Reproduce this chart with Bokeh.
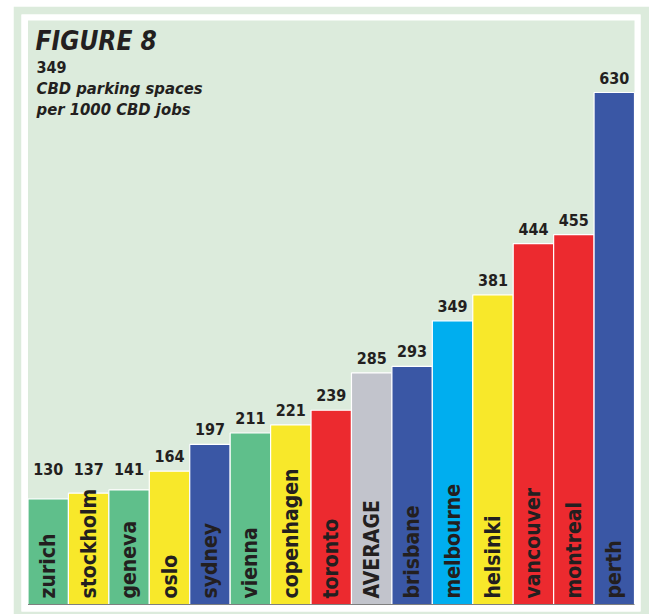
import numpy as np
from bokeh.plotting import figure
from bokeh.models import ColumnDataSource, Range1d
from bokeh.core.properties import value
from bokeh.embed import file_html
from bokeh.resources import INLINE

# ---------------- data ----------------
cities = ["zurich", "stockholm", "geneva", "oslo", "sydney", "vienna", "copenhagen",
          "toronto", "AVERAGE", "brisbane", "melbourne", "helsinki", "vancouver",
          "montreal", "perth"]
spaces = [130, 137, 141, 164, 197, 211, 221, 239, 285, 293, 349, 381, 444, 455, 630]
groups = ["green", "yellow", "green", "yellow", "blue", "green", "yellow", "red",
          "grey", "blue", "cyan", "yellow", "red", "red", "blue"]
title_text = "FIGURE 8"
average_text = "349"
subtitle_lines = ["CBD parking spaces", "per 1000 CBD jobs"]

# ---------------- style ----------------
palette = {"green": "#5fbf8b", "yellow": "#f8e82a", "blue": "#3a57a5",
           "red": "#ec2a2f", "grey": "#c2c4cc", "cyan": "#00aeef"}
OUTER = "#dcebdc"
PANEL = "#dcebdc"
INK = "#231f20"
FONT = "DejaVu Sans Condensed"

# canvas geometry (pixels in the 649x614 window)
FIG_L, FIG_T = 13, 6
FR_L, FR_R, FR_T, FR_B = 21, 640, 14, 611       # white frame
BAR_L, BAR_R, PANEL_T, BASE = 27.5, 634, 20, 604  # inner panel
PERTH_TOP = 92
SHIFT = 7  # renderer baseline correction (px)

n = len(cities)
sx = (BAR_R - BAR_L) / n
sy = (BASE - PERTH_TOP) / max(spaces)

x_start = -0.5 - (BAR_L - FR_L) / sx
x_end = x_start + (FR_R - FR_L) / sx
y_start = -(FR_B - BASE) / sy
y_end = (BASE - FR_T) / sy

def dx(px):
    return x_start + (px - FR_L) / sx

def dy(py):
    return (BASE - py) / sy

p = figure(width=649 - FIG_L, height=614 - FIG_T, margin=(FIG_T, 0, 0, FIG_L),
           x_range=Range1d(x_start, x_end), y_range=Range1d(y_start, y_end),
           x_axis_type=None, y_axis_type=None, toolbar_location=None,
           output_backend="svg", min_border_left=FR_L - FIG_L,
           min_border_right=649 - FR_R, min_border_top=FR_T - FIG_T,
           min_border_bottom=614 - FR_B, border_fill_color=OUTER,
           background_fill_color="white", outline_line_color=None)
p.grid.visible = False

# inner panel
p.quad(left=[-0.5], right=[n - 0.5], bottom=[0], top=[dy(PANEL_T)],
       fill_color=PANEL, line_color=None)

xs = np.arange(n)
vals = np.array(spaces, dtype=float)
gap = (8 + SHIFT) / sy
src = ColumnDataSource(dict(
    x=xs, top=vals, city=cities,
    color=[palette[g] for g in groups],
    label=[str(v) for v in spaces],
    label_y=np.maximum(vals, dy(475) - 8 / sy) + gap,
    cat_y=np.full(n, 6 / sy),
))

p.vbar(x="x", top="top", bottom=0, width=1.0, source=src,
       fill_color="color", line_color="white", line_width=1.2)
p.segment(x0=[-0.5], x1=[n - 0.5], y0=[0], y1=[0], line_color="#7f7f7f", line_width=1.2)

p.text(x="x", y="label_y", text="label", source=src, text_align="center",
       text_baseline="alphabetic", text_font=value(FONT), text_font_style="bold",
       text_font_size="16px", text_color=INK)

p.text(x="x", y="cat_y", text="city", source=src, angle=np.pi / 2,
       text_align="left", text_baseline="middle", text_font=value(FONT),
       text_font_style="bold", text_font_size="21px", text_color=INK)

# headings
p.text(x=[dx(35)], y=[dy(47 - SHIFT)], text=[title_text], text_font=value(FONT),
       text_font_style="bold italic", text_font_size="26px", text_color=INK,
       text_baseline="alphabetic")
p.text(x=[dx(36)], y=[dy(73 - SHIFT)], text=[average_text], text_font=value(FONT),
       text_font_style="bold", text_font_size="16px", text_color=INK,
       text_baseline="alphabetic")
p.text(x=[dx(36), dx(36)], y=[dy(95 - SHIFT), dy(115.5 - SHIFT)], text=subtitle_lines,
       text_font=value(FONT), text_font_style="bold italic",
       text_font_size="16.5px", text_color=INK, text_baseline="alphabetic")

open("out.html", "w").write(file_html(p, INLINE))
